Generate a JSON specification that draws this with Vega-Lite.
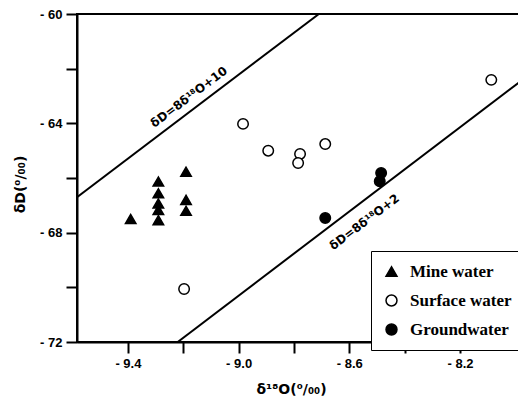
{
  "$schema": "https://vega.github.io/schema/vega-lite/v6.json",
  "autosize": "none",
  "width": 445,
  "height": 328,
  "padding": {"left": 77, "top": 14, "right": 0, "bottom": 61},
  "background": "white",
  "config": {
    "view": {"stroke": "black", "strokeWidth": 2},
    "axis": {
      "domainColor": "black", "domainWidth": 2, "tickColor": "black", "tickWidth": 2, "tickSize": 11,
      "labelFont": "Liberation Sans", "labelFontWeight": "bold", "labelFontSize": 13, "labelColor": "black",
      "titleFont": "DejaVu Sans", "titleFontWeight": "bold", "titleFontSize": 14, "titleColor": "black",
      "grid": false
    }
  },
  "datasets": {
    "pts": [
      {"x": -9.39, "y": -67.5, "type": "Mine water"},
      {"x": -9.29, "y": -66.13, "type": "Mine water"},
      {"x": -9.29, "y": -66.56, "type": "Mine water"},
      {"x": -9.29, "y": -66.93, "type": "Mine water"},
      {"x": -9.29, "y": -67.17, "type": "Mine water"},
      {"x": -9.29, "y": -67.54, "type": "Mine water"},
      {"x": -9.19, "y": -65.77, "type": "Mine water"},
      {"x": -9.19, "y": -66.8, "type": "Mine water"},
      {"x": -9.19, "y": -67.2, "type": "Mine water"},
      {"x": -8.984, "y": -64.02, "type": "Surface water"},
      {"x": -8.893, "y": -65.0, "type": "Surface water"},
      {"x": -8.778, "y": -65.12, "type": "Surface water"},
      {"x": -8.785, "y": -65.45, "type": "Surface water"},
      {"x": -8.687, "y": -64.76, "type": "Surface water"},
      {"x": -8.087, "y": -62.41, "type": "Surface water"},
      {"x": -9.197, "y": -70.06, "type": "Surface water"},
      {"x": -8.485, "y": -65.82, "type": "Groundwater"},
      {"x": -8.49, "y": -66.12, "type": "Groundwater"},
      {"x": -8.687, "y": -67.46, "type": "Groundwater"}
    ],
    "lines": [
      {"line": "a", "x": -9.584, "y": -66.7},
      {"line": "a", "x": -8.71, "y": -60},
      {"line": "b", "x": -9.22, "y": -72},
      {"line": "b", "x": -7.976, "y": -62.42}
    ],
    "labels": [
      {"x": -9.18, "y": -63.04, "text": "δD=8δ¹⁸O+10"},
      {"x": -8.546, "y": -67.61, "text": "δD=8δ¹⁸O+2"}
    ]
  },
  "layer": [
    {
      "data": {"name": "lines"},
      "mark": {"type": "line", "color": "black", "strokeWidth": 2, "clip": true},
      "encoding": {
        "x": {"field": "x", "type": "quantitative", "scale": {"domain": [-9.584, -7.976], "nice": false, "zero": false},
          "axis": {"values": [-9.4, -9.2, -9.0, -8.8, -8.6, -8.4, -8.2], "labelExpr": "(round(datum.value*10)+94) % 4 == 0 ? '- ' + format(abs(datum.value), '.1f') : ''", "labelPadding": 4, "labelFlush": false, "labelOverlap": false,
            "title": "δ¹⁸O(⁰/₀₀)", "titleX": 214, "titleY": 47, "titleBaseline": "middle", "titleAlign": "center"}},
        "y": {"field": "y", "type": "quantitative", "scale": {"domain": [-72, -60], "nice": false, "zero": false},
          "axis": {"values": [-72, -70, -68, -66, -64, -62, -60], "labelExpr": "abs(datum.value) % 4 == 0 ? '- ' + abs(datum.value) : ''", "labelPadding": 4, "labelFlush": false, "labelOverlap": false,
            "title": "δD(⁰/₀₀)", "titleX": -57, "titleY": 170, "titleBaseline": "middle", "titleAlign": "center", "titleAngle": -90}},
        "detail": {"field": "line"}
      }
    },
    {
      "data": {"name": "labels"},
      "mark": {"type": "text", "angle": -37, "font": "DejaVu Sans", "fontWeight": "bold", "fontSize": 12, "color": "black", "align": "center", "baseline": "middle"},
      "encoding": {
        "x": {"field": "x", "type": "quantitative"},
        "y": {"field": "y", "type": "quantitative"},
        "text": {"field": "text"}
      }
    },
    {
      "data": {"name": "pts"},
      "mark": {"type": "point", "filled": true, "strokeWidth": 1.5, "opacity": 1, "size": 110},
      "encoding": {
        "x": {"field": "x", "type": "quantitative"},
        "y": {"field": "y", "type": "quantitative"},
        "shape": {"field": "type", "type": "nominal",
          "scale": {"domain": ["Mine water", "Surface water", "Groundwater"], "range": ["triangle-up", "circle", "circle"]},
          "legend": {"title": null, "orient": "none", "legendX": 294, "legendY": 237, "strokeColor": "black", "fillColor": "white", "padding": 12, "rowPadding": 11, "symbolSize": 120, "symbolStrokeWidth": 1.5, "labelFont": "Liberation Serif", "labelFontWeight": "bold", "labelFontSize": 17, "labelColor": "black", "labelOffset": 10, "labelExpr": "datum.label + '    '"}},
        "fill": {"field": "type", "type": "nominal",
          "scale": {"domain": ["Mine water", "Surface water", "Groundwater"], "range": ["black", "white", "black"]},
          "legend": {"title": null}},
        "stroke": {"field": "type", "type": "nominal",
          "scale": {"domain": ["Mine water", "Surface water", "Groundwater"], "range": ["black", "black", "black"]},
          "legend": {"title": null}}
      }
    }
  ]
}
